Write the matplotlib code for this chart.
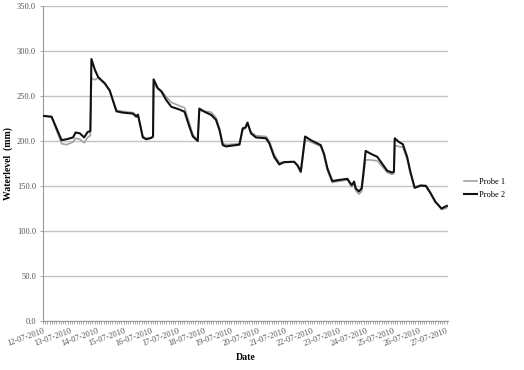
import matplotlib
matplotlib.use("Agg")
import matplotlib.pyplot as plt
import numpy as np

# time in days since 12-07-2010
days = [0.00, 0.32, 0.69, 0.88, 1.12, 1.21, 1.37, 1.53, 1.66, 1.76, 1.80, 1.93, 2.05, 2.30, 2.48,
        2.73, 2.97, 3.34, 3.47, 3.53, 3.71, 3.84, 4.03, 4.09, 4.11, 4.27, 4.40, 4.58, 4.77, 5.07,
        5.26, 5.44, 5.57, 5.75, 5.81, 6.00, 6.25, 6.43, 6.56, 6.68, 6.80, 7.30, 7.36, 7.42, 7.52,
        7.60, 7.73, 7.91, 8.29, 8.41, 8.59, 8.78, 8.96, 9.33, 9.46, 9.58, 9.74, 9.95, 10.32, 10.44,
        10.57, 10.75, 10.94, 11.31, 11.47, 11.56, 11.62, 11.74, 11.84, 11.89, 11.99, 12.17, 12.42,
        12.60, 12.79, 12.97, 13.04, 13.07, 13.22, 13.37, 13.53, 13.65, 13.81, 14.03, 14.23, 14.40,
        14.58, 14.81, 14.93, 15.01]

probe2 = [228, 227, 201, 202, 204, 209.5, 208.5, 204, 210, 211, 291, 279, 271, 264, 256,
          233, 231.5, 230.5, 227, 229, 204, 202, 203.5, 205, 268.5, 258.5, 255, 245.5, 238, 235,
          232.5, 216, 205, 200, 236, 232.5, 229, 223.5, 212, 195.5, 194, 196, 205, 214, 215,
          220.5, 208.5, 204, 203, 197.5, 182.5, 174, 176.5, 177, 173, 166, 205, 201, 195.5, 186,
          169.5, 155.5, 156.5, 158, 151, 155, 147.5, 144, 147.5, 160, 189, 186, 182.5,
          175, 167, 165, 166, 203, 199, 196.5, 182.5, 166, 148, 150.5, 150, 142,
          132.5, 125, 127, 128]

probe1 = [228, 226.5, 197, 196, 199, 203, 202, 198, 204, 206, 270, 268, 270, 263, 256,
          234, 233, 231.5, 229, 230, 205, 203, 204, 205, 263, 258, 256, 249, 243, 239,
          237, 220, 207, 201, 234, 233, 232, 226, 214, 197, 196, 197, 204, 212, 214,
          218, 210, 206, 205, 200, 185, 176, 177, 177, 172, 165, 201, 199, 194, 184,
          167, 154, 155, 157, 149, 152, 145, 141, 144, 156, 179, 179, 178,
          172, 165, 163, 164, 195, 194, 193, 180, 164, 149, 151, 151, 143,
          133, 124, 125, 126]

date_labels = ["12-07-2010", "13-07-2010", "14-07-2010", "15-07-2010", "16-07-2010",
               "17-07-2010", "18-07-2010", "19-07-2010", "20-07-2010", "21-07-2010",
               "22-07-2010", "23-07-2010", "24-07-2010", "25-07-2010", "26-07-2010",
               "27-07-2010"]
y_ticks = [0, 50, 100, 150, 200, 250, 300, 350]

serif = ["Liberation Serif", "DejaVu Serif"]

fig = plt.figure(figsize=(5.24, 3.70), dpi=100)
ax = fig.add_axes([0.082, 0.132, 0.773, 0.852])

ax.plot(days, probe1, color="#a3a3a3", lw=1.2, label="Probe 1", zorder=3)
ax.plot(days, probe2, color="#111111", lw=1.5, label="Probe 2", zorder=4)

ax.set_xlim(0, 15.05)
ax.set_ylim(0, 350)
ax.set_yticks(y_ticks)
ax.set_yticklabels([f"{v:.1f}" for v in y_ticks], fontsize=6, family=serif, color="#555555")
ax.set_xticks(range(len(date_labels)))
ax.set_xticklabels(date_labels, rotation=20, ha="right", rotation_mode="anchor",
                   fontsize=6, family=serif, color="#555555")
ax.set_xticks(np.arange(0, 15.01, 1 / 12), minor=True)
ax.tick_params(axis="x", which="both", length=2, color="#9a9a9a", width=0.6, pad=2)
ax.tick_params(axis="y", length=2, color="#9a9a9a", width=0.6, pad=3)

ax.grid(axis="y", color="#c4c4c4", lw=1.0)
ax.set_axisbelow(True)
for s in ["top", "right"]:
    ax.spines[s].set_visible(False)
ax.spines["left"].set_color("#9a9a9a")
ax.spines["bottom"].set_color("#9a9a9a")
ax.spines["bottom"].set_linewidth(0.8)
ax.spines["left"].set_linewidth(0.8)

ax.set_ylabel("Waterlevel  (mm)", fontsize=7, family=serif, fontweight="bold", labelpad=3)
ax.set_xlabel("Date", fontsize=7, family=serif, fontweight="bold", labelpad=4)

leg = ax.legend(loc="center left", bbox_to_anchor=(1.02, 0.42), frameon=False,
                prop={"family": serif, "size": 6}, handlelength=1.6, handletextpad=0.3,
                labelspacing=0.6)

fig.savefig("out.png", dpi=100, facecolor="white")
